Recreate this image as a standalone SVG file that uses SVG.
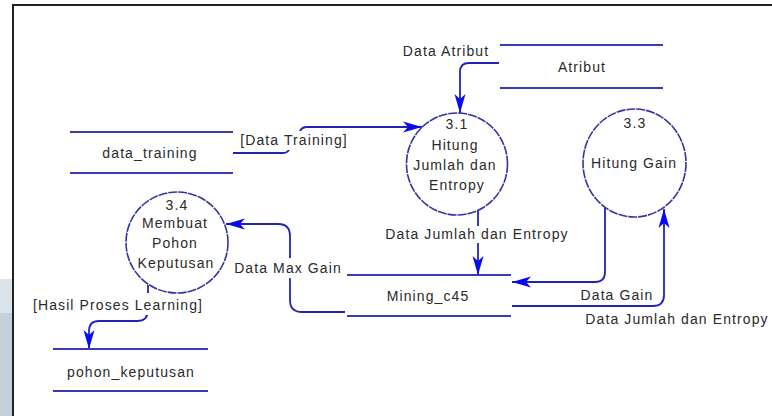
<svg xmlns="http://www.w3.org/2000/svg" width="772" height="416" viewBox="0 0 772 416">
  <style>
    .lbl { font-family: "Liberation Sans", Arial, sans-serif; font-size: 14px; fill: #2a2a2a; letter-spacing: 1.1px; text-anchor: middle; }
    .store { stroke: #3b3bb0; stroke-width: 2; fill: none; }
    .proc { fill: #fff; stroke: #34349e; stroke-width: 1.6; stroke-dasharray: 9 1; }
    .flow { fill: none; stroke: #2424b4; stroke-width: 1.8; marker-end: url(#arrow); }
    .mask { fill: #fff; }
  </style>
  <defs>
    <marker id="arrow" markerWidth="22" markerHeight="12" refX="20" refY="6" orient="auto" markerUnits="userSpaceOnUse" viewBox="0 0 22 12">
      <path d="M20,6 L1,0.5 L6,6 L1,11.5 Z" fill="#0a0af2"/>
    </marker>
  </defs>

  <!-- page background and frame -->
  <rect x="0" y="0" width="772" height="416" fill="#fff"/>
  <rect x="0" y="279" width="12" height="34" fill="#dbe4ea"/>
  <rect x="0" y="313" width="12" height="103" fill="#c4d1da"/>
  <path d="M13,420 V5 H780" fill="none" stroke="#222" stroke-width="2"/>

  <!-- data flows -->
  <g id="connectors">
    <path class="flow" d="M499,63 H469 Q460,63 460,72 V113"/>
    <path class="flow" d="M233,153 H283 Q288,153 290,148 L300,131 Q302,127 307,127 H422"/>
    <path class="flow" d="M478,211 V275"/>
    <path class="flow" d="M605,207 V272 Q605,282 595,282 H512"/>
    <path class="flow" d="M512,306 H653 Q664,306 664,295 V209"/>
    <path class="flow" d="M345,312 H302 Q290,312 290,300 V236 Q290,224 278,224 H226"/>
    <path class="flow" d="M148,285 V310 Q148,321 137,321 H99 Q89,321 89,331 V349"/>
  </g>

  <!-- flow labels -->
  <g id="flow-labels">
    <text class="lbl" x="446" y="55.5">Data Atribut</text>
    <rect class="mask" x="238" y="131" width="112" height="19"/>
    <text class="lbl" x="294" y="145">[Data Training]</text>
    <rect class="mask" x="383" y="226" width="188" height="17"/>
    <text class="lbl" x="477" y="239">Data Jumlah dan Entropy</text>
    <rect class="mask" x="231" y="258" width="114" height="20"/>
    <text class="lbl" x="288" y="273">Data Max Gain</text>
    <text class="lbl" x="617" y="300">Data Gain</text>
    <text class="lbl" x="677" y="323.5">Data Jumlah dan Entropy</text>
    <rect class="mask" x="33" y="293" width="170" height="22"/>
    <text class="lbl" x="118" y="310">[Hasil Proses Learning]</text>
  </g>

  <!-- data stores -->
  <g id="store-atribut">
    <path class="store" d="M500,45 H663 M500,88 H663"/>
    <text class="lbl" x="582" y="72">Atribut</text>
  </g>
  <g id="store-data-training">
    <path class="store" d="M70,132 H233 M70,173 H233"/>
    <text class="lbl" x="150" y="158">data_training</text>
  </g>
  <g id="store-mining">
    <path class="store" d="M347,275 H511 M347,316 H511"/>
    <text class="lbl" x="428" y="300.5">Mining_c45</text>
  </g>
  <g id="store-pohon">
    <path class="store" d="M53,349 H208 M53,391 H208"/>
    <text class="lbl" x="131" y="377">pohon_keputusan</text>
  </g>

  <!-- processes -->
  <g id="proc-3-1">
    <ellipse class="proc" cx="457" cy="164" rx="50.5" ry="51"/>
    <text class="lbl" x="457" y="129">3.1</text>
    <text class="lbl" x="455" y="150">Hitung</text>
    <text class="lbl" x="455" y="169.5">Jumlah dan</text>
    <text class="lbl" x="457" y="190">Entropy</text>
  </g>
  <g id="proc-3-3">
    <ellipse class="proc" cx="634.5" cy="163" rx="51.5" ry="54"/>
    <text class="lbl" x="635" y="128">3.3</text>
    <text class="lbl" x="634" y="168">Hitung Gain</text>
  </g>
  <g id="proc-3-4">
    <ellipse class="proc" cx="177" cy="242.5" rx="51" ry="50.5"/>
    <text class="lbl" x="177" y="210">3.4</text>
    <text class="lbl" x="175" y="228">Membuat</text>
    <text class="lbl" x="175" y="248">Pohon</text>
    <text class="lbl" x="176" y="268">Keputusan</text>
  </g>
</svg>
